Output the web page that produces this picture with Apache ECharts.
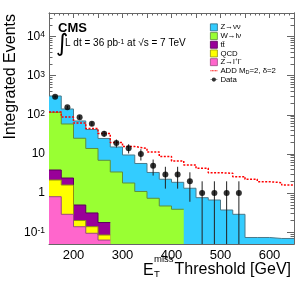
<!DOCTYPE html>
<html><head><meta charset="utf-8">
<script src="https://cdn.jsdelivr.net/npm/echarts@6/dist/echarts.min.js"></script>
<style>html,body{margin:0;padding:0;background:#fff}#c{width:307px;height:282px}</style>
</head><body><div id="c"></div>
<script>
// ---- data ----
const binEdges = [150,175,200,225,250,275,300,325,350,375,400,425,450,475,500,525,550,575,600,625,650];
const zNuNu  = [186.8,82.8,44.5,28.4,18.0,11.6,7.6,4.61,2.63,1.79,1.50,1.33,0.763,0.666,0.370,0.287,0.0733,0.0733,0.0692,0.0692];
const wLNu   = [112.2,55.9,24.7,13.5,6.71,3.46,1.81,1.10,0.737,0.468,0.386,0,0,0,0,0,0,0,0,0];
const ttbar  = [1.73,0.82,0.297,0.172,0.092,0,0,0,0,0,0,0,0,0,0,0,0,0,0,0];
const qcd    = [1.35,1.32,0.061,0.0445,0.0217,0,0,0,0,0,0,0,0,0,0,0,0,0,0,0];
const zLL    = [0.809,0.287,0.138,0.094,0.063,0,0,0,0,0,0,0,0,0,0,0,0,0,0,0];
const addSignal = [118.2,88.1,61.9,44.8,33.4,19.6,15.5,13.8,11.2,8.62,6.61,5.23,4.30,3.32,3.21,2.63,2.25,1.96,1.84,1.61];
const dataCounts = [291,156,87,59,33,19,14,10,5,3,3,2,1,1,1,1,0,0,0,0];
const dataErrLow  = [17,12.5,9.3,7.7,5.7,4.4,3.7,3.2,2.2,1.7,1.7,1.4,1,1,1,1,0,0,0,0];
const dataErrHigh = [17,12.5,9.3,7.7,5.7,4.4,3.7,3.2,2.2,1.7,1.7,1.4,1,1,1,1,0,0,0,0];
const yTickValues = [0.1,1,10,100,1000,10000];
const xLabelValues = [200,300,400,500,600];
const legendNames = ['Z→νν','W→lν','tt̄','QCD','Z→l⁺l⁻','ADD','Data'];

const Y_MIN = 0.05, Y_MAX = 40000;
const FONT = 'Liberation Sans, Arial, Helvetica, sans-serif';

// layers bottom -> top
const layers = [
  {name:'Z→l⁺l⁻', vals:zLL,  fill:'#ff66cc', line:'#9a4a80'},
  {name:'QCD',     vals:qcd,  fill:'#ffff00', line:'#8f8f10'},
  {name:'tt̄',     vals:ttbar,fill:'#990099', line:'#5a005a'},
  {name:'W→lν',    vals:wLNu, fill:'#99ff33', line:'#5f8f3a'},
  {name:'Z→νν',    vals:zNuNu,fill:'#33ccff', line:'#4a7a8a'}
];
function cumRaw(k, i){ let s = 0; for (let j = 0; j <= k; j++) s += layers[j].vals[i]; return s; }
// cumulative sums for the stack
const cum = layers.map((L, k) => L.vals.map((v, i) => (v > 0 ? cumRaw(k, i) : null)));

function histPoints(vals){
  const pts = [];
  vals.forEach((v, i) => {
    if (v == null) pts.push([binEdges[i], null]);
    else { pts.push([binEdges[i], v]); pts.push([binEdges[i+1], v]); }
  });
  return pts;
}

const series = [];
// draw top layer first so lower layers overlay it
for (let k = layers.length - 1; k >= 0; k--) {
  const L = layers[k];
  series.push({
    name: L.name, type:'line', data: histPoints(cum[k]), symbol:'none',
    xAxisIndex:0, yAxisIndex:0, connectNulls:false, animation:false,
    itemStyle:{color:L.fill},
    lineStyle:{color:L.line, width:1},
    areaStyle:{color:L.fill, opacity:1, origin:'start'},
    z: 2
  });
}
series.push({
  name:'ADD', type:'line', data: histPoints(addSignal), symbol:'none',
  xAxisIndex:0, yAxisIndex:0, animation:false,
  itemStyle:{color:'#ff0000'},
  lineStyle:{color:'#ff0000', width:1.5, type:[2,1.5]}, z:3
});
const centers = binEdges.slice(0,-1).map((e,i)=> (e + binEdges[i+1]) / 2);
const pointData = [], errData = [];
dataCounts.forEach((n,i)=>{
  if (n > 0) {
    pointData.push([centers[i], n]);
    errData.push([centers[i], n - dataErrLow[i], n + dataErrHigh[i]]);
  }
});
series.push({
  name:'errors', type:'custom', xAxisIndex:0, yAxisIndex:0, animation:false, z:4,
  data: errData,
  renderItem: function(params, api){
    const x = api.value(0);
    const lo = Math.max(api.value(1), Y_MIN);
    const hi = Math.min(api.value(2), Y_MAX);
    const p1 = api.coord([x, lo]), p2 = api.coord([x, hi]);
    return {type:'line', shape:{x1:p1[0], y1:p1[1], x2:p2[0], y2:p2[1]}, style:{stroke:'#222', lineWidth:1}};
  }
});
series.push({
  name:'Data', type:'scatter', data: pointData, xAxisIndex:0, yAxisIndex:0,
  symbol:'circle', symbolSize:6, itemStyle:{color:'#000'}, animation:false, z:5
});

const minorTicks = [];
for (let e = -2; e <= 4; e++) for (let k = 2; k <= 9; k++) {
  const v = +(k * Math.pow(10, e)).toPrecision(3);
  if (v >= Y_MIN && v <= Y_MAX) minorTicks.push(v);
}
const axisCol = '#666';
function yAx(pos, major, showLabel){
  return {
    type:'log', min:Y_MIN, max:Y_MAX, position:pos,
    axisLine:{show:true, lineStyle:{color:axisCol, width:1}},
    axisTick:{show:true, inside:true, length: major ? 7 : 3.5, customValues: major ? yTickValues : minorTicks, lineStyle:{color:axisCol}},
    axisLabel: showLabel ? {
      show:true, customValues:yTickValues, margin:4, color:'#000', fontFamily:FONT, fontSize:12,
      formatter: function(v){
        const e = Math.round(Math.log10(v));
        if (e === 0) return '1';
        if (e === 1) return '10';
        return '10{s|' + (e < 0 ? '-' + (-e) : e) + '}';
      },
      rich:{s:{fontSize:8.5, verticalAlign:'top', lineHeight:9, fontFamily:FONT, color:'#000'}}
    } : {show:false},
    splitLine:{show:false}, minorTick:{show:false}
  };
}
function xAx(pos, showLabel){
  return {
    type:'value', min:150, max:650, interval:50, position:pos,
    axisLine:{show:true, onZero:false, lineStyle:{color:axisCol, width:1}},
    axisTick:{show:true, inside:true, length:5, lineStyle:{color:axisCol}},
    minorTick:{show:true, splitNumber:5, length:2.5, lineStyle:{color:axisCol}},
    axisLabel: showLabel ? {show:true, margin:5, color:'#000', fontFamily:FONT, fontSize:13,
      formatter: v => (xLabelValues.indexOf(v) >= 0 ? String(v) : '')} : {show:false},
    splitLine:{show:false}
  };
}

const legendStyle = {
  'Z→νν':{icon:'rect', itemStyle:{color:'#33ccff', borderColor:'#2a6a80', borderWidth:0.8}},
  'W→lν':{icon:'rect', itemStyle:{color:'#99ff33', borderColor:'#5f8f3a', borderWidth:0.8}},
  'tt̄':{icon:'rect', itemStyle:{color:'#990099', borderColor:'#5a005a', borderWidth:0.8}},
  'QCD':{icon:'rect', itemStyle:{color:'#ffff00', borderColor:'#8f8f10', borderWidth:0.8}},
  'Z→l⁺l⁻':{icon:'rect', itemStyle:{color:'#ff66cc', borderColor:'#9a4a80', borderWidth:0.8}},
  'ADD':{icon:'path://M0 0h2v2h-2z M3 0h2v2h-2z M6 0h2v2h-2z M9 0h2v2h-2z M12 0h2v2h-2z', itemStyle:{color:'#ff0000', borderWidth:0}},
  'Data':{icon:'path://M0 2.6h10v0.8h-10z M5 0a3 3 0 1 1 -0.01 0z', itemStyle:{color:'#000', borderWidth:0}}
};

const option = {
  animation:false,
  backgroundColor:'#fff',
  grid:{left:49, right:13, top:13, bottom:38, containLabel:false},
  xAxis:[xAx('bottom', true), xAx('top', false)],
  yAxis:[yAx('left', true, true), yAx('left', false, false), yAx('right', true, false), yAx('right', false, false)],
  legend:{
    orient:'vertical', left:210, top:23, itemWidth:7, itemHeight:7, itemGap:0, padding:0,
    selectedMode:false,
    textStyle:{fontFamily:FONT, fontSize:7.8, lineHeight:8.7, color:'#000', padding:[0,0,0,-2],
      rich:{sub:{fontSize:5.5, verticalAlign:'bottom', lineHeight:8.7, fontFamily:FONT}}},
    formatter: n => (n === 'ADD' ? 'ADD M{sub|D}=2, δ=2' : n),
    data: legendNames.map(n => Object.assign({name:n}, legendStyle[n]))
  },
  graphic:[
    {type:'text', x:58, y:22, style:{text:'CMS', font:'bold 13px ' + FONT, fill:'#000'}},
    {type:'text', x:56, y:33, style:{text:'∫', font:'24px DejaVu Sans, ' + FONT, fill:'#000'}},
    {type:'text', x:65, y:38.5, style:{text:'L dt = 36 pb{s|-1} at √s = 7 TeV', font:'10px ' + FONT, fill:'#000',
      rich:{s:{fontSize:7, verticalAlign:'top', fontFamily:FONT}}}},
    {type:'text', x:11, y:14, rotation:Math.PI/2, style:{text:'Integrated Events', font:'16px ' + FONT, fill:'#000', align:'right', verticalAlign:'middle'}},
    {type:'text', x:143, y:263, style:{text:'E', font:'16px ' + FONT, fill:'#000'}},
    {type:'text', x:154, y:254, style:{text:'miss', font:'9.5px ' + FONT, fill:'#000'}},
    {type:'text', x:154, y:269, style:{text:'T', font:'9.5px ' + FONT, fill:'#000'}},
    {type:'text', x:291, y:270, style:{text:'Threshold [GeV]', font:'16px ' + FONT, fill:'#000', align:'right', verticalAlign:'middle'}}
  ],
  series: series
};
const chart = echarts.init(document.getElementById('c'), null, {renderer:'canvas'});
chart.setOption(option);
</script></body></html>
